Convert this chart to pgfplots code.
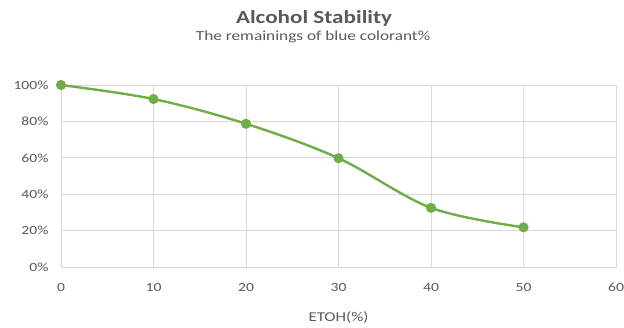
\documentclass[border=0pt]{standalone}
\usepackage{fontspec}
\setmainfont{Carlito}[FakeStretch=1.25]
\usepackage{pgfplots}
\pgfplotsset{compat=1.18}
\definecolor{txt}{RGB}{89,89,89}
\definecolor{grd}{RGB}{217,217,217}
\definecolor{lgreen}{RGB}{112,173,71}
\begin{document}
\begin{tikzpicture}
\begin{axis}[
  scale only axis,
  width=555pt, height=182pt,
  xmin=0, xmax=60, ymin=0, ymax=100,
  xtick={0,10,...,60}, ytick={0,20,...,100},
  yticklabel={\pgfmathprintnumber{\tick}\%},
  /pgf/number format/assume math mode=true,
  grid=major,
  grid style={grd, line width=0.8pt},
  axis line style={grd, line width=0.8pt},
  major tick length=0pt,
  tick label style={font=\fontsize{12.5}{14}\selectfont, text=txt},
  yticklabel style={xshift=-9pt},
  xticklabel style={yshift=-13pt},
  xlabel={ETOH(\%)},
  xlabel style={font=\fontsize{13.5}{15}\selectfont, text=txt, yshift=-13pt},
  clip=false,
]
\addplot[lgreen, line width=2.4pt, smooth, tension=0.55, mark=*, mark size=3.8pt, mark options={fill=lgreen, draw=lgreen}]
  coordinates {(0,100) (10,92.3) (20,78.7) (30,59.8) (40,32.5) (50,21.8)};
\coordinate (sw) at (rel axis cs:0,0);
\coordinate (ne) at (rel axis cs:1,1);
\coordinate (tl) at (rel axis cs:0,1);
\end{axis}
\node[text=txt, font=\fontsize{18.5}{20}\selectfont\bfseries] at ([shift={(253pt,67pt)}]tl) {Alcohol Stability};
\node[text=txt, font=\fontsize{13.8}{16}\selectfont] at ([shift={(252pt,48pt)}]tl) {The remainings of blue colorant\%};
\pgfresetboundingbox
\path[use as bounding box] ([shift={(-61pt,-60pt)}]sw) rectangle ([shift={(8pt,85pt)}]ne);
\end{tikzpicture}
\end{document}
